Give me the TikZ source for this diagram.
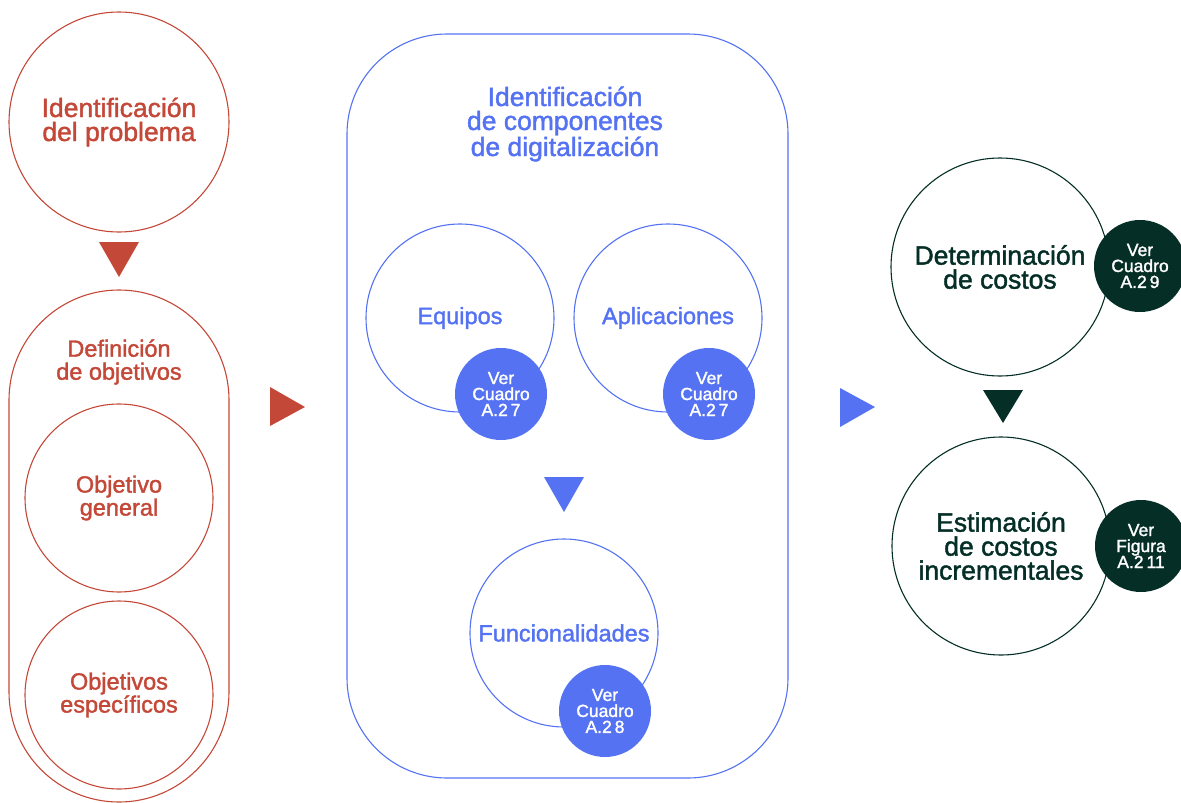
\documentclass[tikz,border=0pt]{standalone}
\usepackage{fontspec}
\setmainfont{Liberation Sans}
\newfontfamily\medf{Liberation Sans}[FakeBold=1.6]
\newcommand{\fsz}[2]{\fontsize{#1}{#2}\selectfont\medf}
\definecolor{cred}{RGB}{196,72,56}
\definecolor{cblue}{RGB}{84,114,242}
\definecolor{cdark}{RGB}{4,46,38}
\begin{document}
\begin{tikzpicture}[x=1pt,y=-1pt,
  ring/.style={circle,draw=#1,line width=1.1pt,inner sep=0pt,text=#1,align=center},
  badge/.style={circle,fill=#1,text=white,minimum size=92pt,inner sep=0pt,align=center,font=\fsz{17.5}{16}},
  lbl/.style={text=#1,align=center,inner sep=0pt},
  marker/.style={fill=#1}]
\useasboundingbox (0,0) rectangle (1181,803);
% ---------- left column ----------
\node[ring=cred,minimum size=220pt,font=\fsz{26.5}{24}] (prob) at (119,122) {Identificación\\del problema};
\fill[marker=cred] (99,242) -- (139,242) -- (119,277) -- cycle;
\node[draw=cred,line width=1.1pt,rounded corners=110pt,minimum width=220pt,minimum height=512pt,inner sep=0pt] (defobj) at (119,546) {};
\node[lbl=cred,font=\fsz{23.5}{23}] (defobjlbl) at (119,362) {Definición\\de objetivos};
\node[ring=cred,minimum size=188pt,font=\fsz{23.5}{23}] (objgen) at (119,498) {Objetivo\\general};
\node[ring=cred,minimum size=188pt,font=\fsz{23.5}{23}] (objesp) at (119,695) {Objetivos\\específicos};
\fill[marker=cred] (270,387) -- (270,426) -- (305,407) -- cycle;
% ---------- middle column ----------
\node[draw=cblue,line width=1.1pt,rounded corners=100pt,minimum width=441pt,minimum height=744pt,inner sep=0pt] (comp) at (567.5,406) {};
\node[lbl=cblue,font=\fsz{26.5}{24}] (comptitle) at (565,124) {Identificación\\de componentes\\de digitalización};
\node[ring=cblue,minimum size=188pt,font=\fsz{23.5}{23}] (equip) at (460,318) {Equipos};
\node[badge=cblue] (b1) at (501,394) {Ver\\Cuadro\\A.2\,7};
\node[ring=cblue,minimum size=188pt,font=\fsz{23.5}{23}] (aplic) at (668,318) {Aplicaciones};
\node[badge=cblue] (b2) at (709,394) {Ver\\Cuadro\\A.2\,7};
\fill[marker=cblue] (544,477) -- (584,477) -- (564,512) -- cycle;
\node[ring=cblue,minimum size=188pt,font=\fsz{23.5}{23}] (func) at (564,633) {Funcionalidades};
\node[badge=cblue] (b3) at (605,711) {Ver\\Cuadro\\A.2\,8};
\fill[marker=cblue] (840,388) -- (840,427) -- (875,407) -- cycle;
% ---------- right column ----------
\node[ring=cdark,minimum size=218pt,font=\fsz{26.5}{24}] (costos) at (1000,267) {Determinación\\de costos};
\node[badge=cdark] (b4) at (1140,266) {Ver\\Cuadro\\A.2\,9};
\fill[marker=cdark] (983,390) -- (1023,390) -- (1003,423) -- cycle;
\node[ring=cdark,minimum size=218pt,font=\fsz{26.5}{24}] (increm) at (1001,546) {Estimación\\de costos\\incrementales};
\node[badge=cdark] (b5) at (1141,546) {Ver\\Figura\\A.2\,11};
\end{tikzpicture}
\end{document}
